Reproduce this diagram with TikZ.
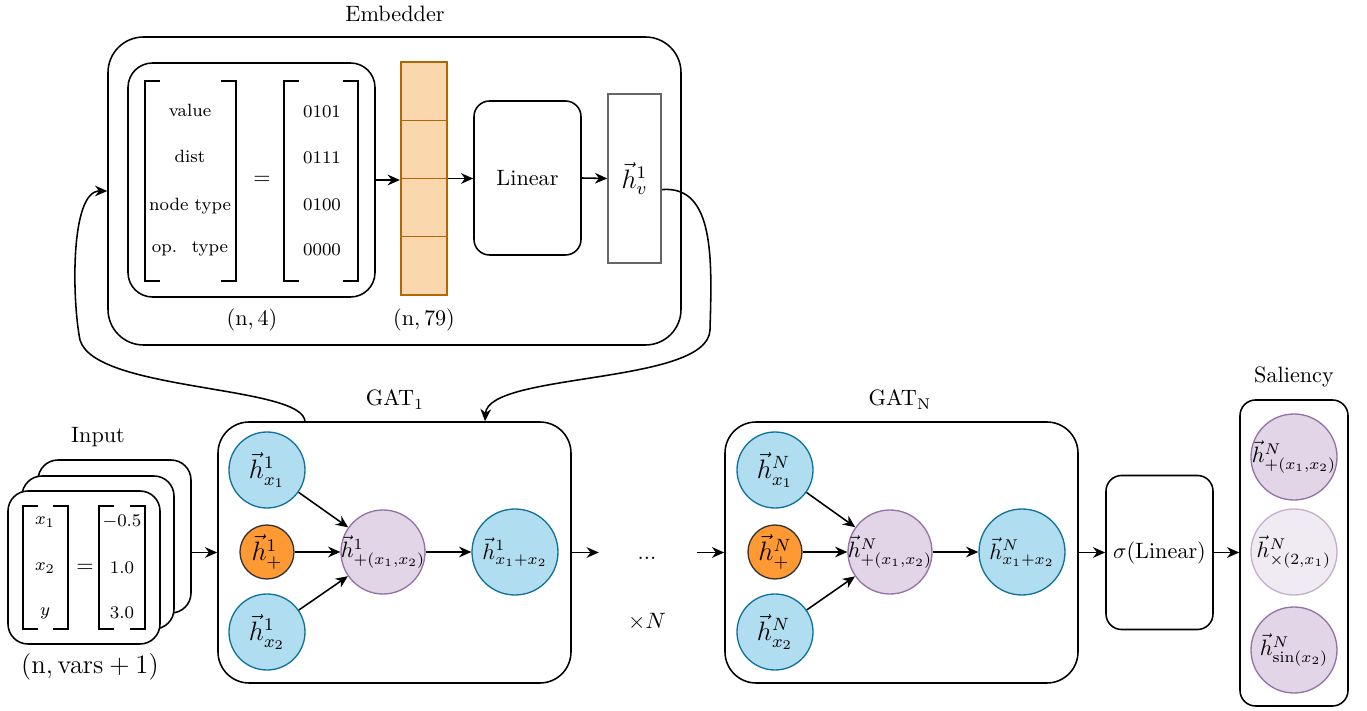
\documentclass[tikz,border=0pt]{standalone}
\usepackage{amsmath}
\usetikzlibrary{arrows.meta,fit,positioning}

\definecolor{bluefill}{HTML}{B1DDF0}
\definecolor{bluedraw}{HTML}{10739E}
\definecolor{orangefill}{HTML}{FF9933}
\definecolor{orangedraw}{HTML}{333333}
\definecolor{stackfill}{HTML}{FAD7AC}
\definecolor{stackdraw}{HTML}{B46504}
\definecolor{purplefill}{HTML}{E1D5E7}
\definecolor{purpledraw}{HTML}{9673A6}
\definecolor{lightpfill}{HTML}{F0EAF3}
\definecolor{lightpdraw}{HTML}{C3B1CC}

% one pixel of the layout
\newcommand{\px}[1]{#1*0.45pt}
% text that does not widen its circle
\newcommand{\inner}[1]{\makebox[0pt]{#1}}

\tikzset{
	box/.style={draw, line width=0.7pt, inner sep=0pt, rounded corners=#1},
	box/.default=9pt,
	arr/.style={-{Stealth[length=5.5pt,width=4.8pt]}, line width=0.7pt},
	cell/.style={draw=stackdraw, fill=stackfill, line width=0.6pt, inner sep=0pt},
	xnode/.style={circle, draw=bluedraw, fill=bluefill, line width=0.6pt, inner sep=0pt, minimum size=\px{76}, font=\large},
	opnode/.style={circle, draw=orangedraw, fill=orangefill, line width=0.6pt, inner sep=0pt, minimum size=\px{54}, font=\large},
	aggnode/.style={circle, draw=purpledraw, fill=purplefill, line width=0.6pt, inner sep=0pt, minimum size=\px{84}},
	salnode/.style={circle, draw=purpledraw, fill=purplefill, line width=0.6pt, inner sep=0pt, minimum size=\px{86}},
	brk/.style={line width=0.7pt},
}

% left / right bracket of a hand drawn matrix
\newcommand{\lbrk}[3]{\draw[brk] (#1+15,#2) -- (#1,#2) -- (#1,#3) -- (#1+15,#3);}
\newcommand{\rbrk}[3]{\draw[brk] (#1-15,#2) -- (#1,#2) -- (#1,#3) -- (#1-15,#3);}

\begin{document}
\begin{tikzpicture}[x=0.45pt,y=-0.45pt]
	\useasboundingbox (0,0) rectangle (1367,711);

	% ---------------- embedder ----------------
	\node[box=16pt, fit={(108,37) (681,345)}] (emb) {};
	\node at (395,14) {Embedder};
	\node[box=11pt, fit={(128,63) (375,297)}] (feat) {};
	\lbrk{145}{81}{281}
	\rbrk{236}{81}{281}
	\node[font=\footnotesize] (fval) at (190,110) {value};
	\node[font=\footnotesize] (fdist) at (190,156) {dist};
	\node[font=\footnotesize] (fnode) at (190,206) {node type};
	\node[font=\footnotesize] (fop) at (190,249) {op.~ type};
	\node at (262,180) {$=$};
	\lbrk{284}{81}{281}
	\rbrk{358}{81}{281}
	\node[font=\footnotesize] (bval) at (322,112) {0101};
	\node[font=\footnotesize] (bdist) at (322,158) {0111};
	\node[font=\footnotesize] (bnode) at (322,205) {0100};
	\node[font=\footnotesize] (bop) at (322,250) {0000};
	\node at (252,320) {$(\mathrm{n},4)$};

	% one hot stack
	\foreach \i in {0,...,3}
		\node[cell, fit={(401,{62+\i*58.25}) (447,{62+(\i+1)*58.25})}] (c\i) {};
	\node[inner sep=0pt, fit=(c0)(c3)] (stk) {};
	\node at (424,320) {$(\mathrm{n},79)$};

	\node[box=7pt, minimum width=\px{107}, minimum height=\px{154}] (lin) at (527.5,178) {Linear};
	\node[draw=black!60, line width=0.7pt, inner sep=0pt, minimum width=\px{53}, minimum height=\px{169},
		font=\large] (hv) at (634.5,178.5) {$\vec{h}^{1}_{v}$};

	\draw[arr] (feat.east) -- (feat.east -| stk.west);
	\draw[arr] (stk.east) -- (stk.east -| lin.west);
	\draw[arr] (lin.east) -- (hv.west);

	% ---------------- input ----------------
	\node at (98,437) {Input};
	\node[box=9pt, fill=white, fit={(38,460) (191,613)}] (in3) {};
	\node[box=9pt, fill=white, fit={(22,476) (174,629)}] (in2) {};
	\node[box=9pt, fill=white, fit={(8,491) (160,644)}] (in1) {};
	\lbrk{23}{506}{629}
	\rbrk{68}{506}{629}
	\lbrk{99}{506}{629}
	\rbrk{145}{506}{629}
	\node[font=\footnotesize] at (45,522) {$x_1$};
	\node[font=\footnotesize] at (45,568) {$x_2$};
	\node[font=\footnotesize] at (45,613) {$y$};
	\node at (85,568) {$=$};
	\node[font=\footnotesize] at (122,522) {$-0.5$};
	\node[font=\footnotesize] at (122,568) {$1.0$};
	\node[font=\footnotesize] at (122,613) {$3.0$};
	\node[font=\large] at (90,667) {$(\mathrm{n},\mathrm{vars}+1)$};

	% ---------------- GAT 1 ----------------
	\node[box=14pt, fit={(218,422) (571,683)}] (g1) {};
	\node at (395,400) {$\mathrm{GAT}_1$};
	\node[xnode] (g1a) at (267,470) {\inner{$\vec{h}^{1}_{x_1}$}};
	\node[opnode] (g1p) at (267,552) {\inner{$\vec{h}^{1}_{+}$}};
	\node[xnode] (g1b) at (267,632) {\inner{$\vec{h}^{1}_{x_2}$}};
	\node[aggnode] (g1s) at (383,552) {\inner{$\vec{h}^{1}_{+(x_1,x_2)}$}};
	\node[xnode, minimum size=\px{86}, font=\normalsize] (g1o) at (515,552) {\inner{$\vec{h}^{1}_{x_1+x_2}$}};
	\draw[arr] (g1a) -- (g1s);
	\draw[arr] (g1p) -- (g1s);
	\draw[arr] (g1b) -- (g1s);
	\draw[arr] (g1s) -- (g1o);

	% ---------------- repeat ----------------
	\coordinate[right=\px{27} of g1.east] (rin);
	\node (dots) at (647,558) {...};
	\node (times) at (647,622) {$\times N$};

	% ---------------- GAT N ----------------
	\node[box=14pt, fit={(725,422) (1078,683)}] (gn) {};
	\node at (900,400) {$\mathrm{GAT}_{\mathrm{N}}$};
	\coordinate[left=\px{27} of gn.west] (rout);
	\node[xnode] (gna) at (775,470) {\inner{$\vec{h}^{N}_{x_1}$}};
	\node[opnode] (gnp) at (775,552) {\inner{$\vec{h}^{N}_{+}$}};
	\node[xnode] (gnb) at (775,632) {\inner{$\vec{h}^{N}_{x_2}$}};
	\node[aggnode] (gns) at (890,552) {\inner{$\vec{h}^{N}_{+(x_1,x_2)}$}};
	\node[xnode, minimum size=\px{86}, font=\normalsize] (gno) at (1022,552) {\inner{$\vec{h}^{N}_{x_1+x_2}$}};
	\draw[arr] (gna) -- (gns);
	\draw[arr] (gnp) -- (gns);
	\draw[arr] (gnb) -- (gns);
	\draw[arr] (gns) -- (gno);

	% ---------------- output ----------------
	\node[box=7pt, minimum width=\px{107}, minimum height=\px{154}] (sig) at (1159.5,552.5) {$\sigma(\mathrm{Linear})$};
	\node[box=7pt, fit={(1240,400) (1348,706)}] (sal) {};
	\node at (1294,377) {Saliency};
	\node[salnode] (s1) at (1294,457) {\inner{$\vec{h}^{N}_{+(x_1,x_2)}$}};
	\node[salnode, draw=lightpdraw, fill=lightpfill] (s2) at (1294,552) {\inner{$\vec{h}^{N}_{\times(2,x_1)}$}};
	\node[salnode] (s3) at (1294,650) {\inner{$\vec{h}^{N}_{\sin(x_2)}$}};

	% ---------------- connectors ----------------
	\draw[arr] (in3.east |- g1.west) -- (g1.west);
	\draw[arr] (g1.east) -- (rin);
	\draw[arr] (rout) -- (gn.west);
	\draw[arr] (gn.east) -- (gn.east -| sig.west);
	\draw[arr] (sig.east) -- (sal.west |- sig.east);

	\coordinate (g1top) at (305,422);
	\draw[arr] (g1top) .. controls (305,385) and (95,392) .. (80,340)
		.. controls (72,300) and (70,191) .. (emb.west);
	\draw[arr] ([yshift=-5pt]hv.east) .. controls (715,185) and (712,260) .. (710,330)
		.. controls (708,385) and (488,372) .. (g1.north -| 485,0);
\end{tikzpicture}
\end{document}
